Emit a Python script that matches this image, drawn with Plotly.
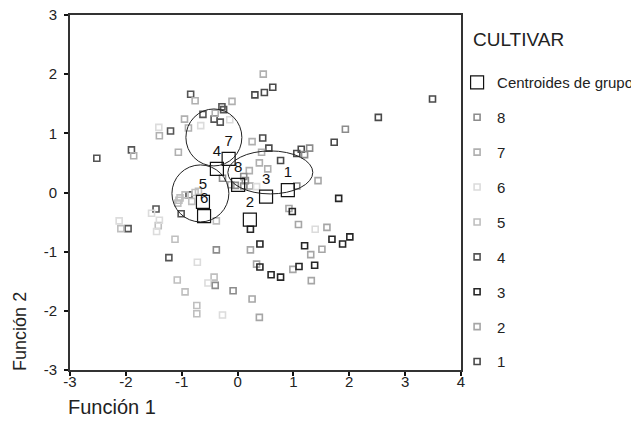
import plotly.graph_objects as go

# ---- data ----
groups = ["1", "2", "3", "4", "5", "6", "7", "8"]

g1_x = [0.31, 0.48, 0.63, 0.45, 0.56, 1.14, 1.06, 0.77, 3.49, 2.52, 1.73]
g1_y = [1.65, 1.69, 1.78, 0.92, 0.75, 0.73, 0.66, 0.54, 1.58, 1.27, 0.85]

g2_x = [1.44, -0.12, 0.22, 0.92, 1.09, 1.60, 0.23, 1.31, 1.51, 0.34, 0.99, 1.32, 0.26, 0.39]
g2_y = [0.20, 0.13, 0.11, -0.27, -0.54, -0.59, -0.97, -1.05, -0.96, -1.21, -1.30, -1.49, -1.80, -2.11]

g3_x = [1.81, 0.98, 1.69, 1.88, 2.01, 0.40, 1.20, 0.40, 0.60, 0.77, 1.10, 1.38, 0.23]
g3_y = [-0.10, -0.32, -0.79, -0.87, -0.75, -0.87, -0.90, -1.26, -1.39, -1.43, -1.25, -1.23, -0.62]

g4_x = [-0.84, -0.62, -1.20, -1.90, -2.52, -0.28, -0.25, -0.42, -0.31, -0.87, -1.01, -1.46, -1.96, -1.23]
g4_y = [1.66, 1.32, 1.04, 0.72, 0.58, 1.45, 1.40, 1.24, 1.19, -0.04, -0.36, -0.28, -0.61, -1.10]

g5_x = [-1.03, -0.76, -0.70, -0.94, -1.05, -1.07, -0.82, -0.38, -2.09, -1.42, -1.12, -1.08, -0.94, -0.73, -0.73, -0.42]
g5_y = [-0.09, 0.00, 0.02, -0.04, -0.13, -0.18, -0.15, -0.48, -0.61, -0.56, -0.79, -1.48, -1.68, -1.91, -2.05, -1.43]

g6_x = [-0.66, -1.41, -0.14, 0.34, -1.54, -2.12, -1.40, -1.45, -0.72, -0.53, 1.39, -0.27]
g6_y = [1.13, 1.10, 1.23, 0.10, -0.35, -0.48, -0.47, -0.66, -1.18, -1.53, -0.62, -2.07]

g7_x = [-0.76, -0.95, -0.88, -1.40, -1.86, -1.06, 0.46, -0.10, -0.40, 0.26, 0.43, 0.39, 0.54, 0.21]
g7_y = [1.55, 1.24, 1.09, 0.96, 0.62, 0.68, 2.00, 1.54, 1.34, 0.86, 0.68, 0.50, 0.40, 0.37]

g8_x = [1.20, 1.29, 1.06, 1.93, 0.11, 0.14, -0.27, -0.04, 0.11, -0.38, -0.40, -0.08]
g8_y = [0.64, 0.75, 0.11, 1.07, 0.27, 0.20, 0.24, 0.12, 0.11, -0.97, -1.57, -1.66]

centroid_labels = ["1", "2", "3", "4", "5", "6", "7", "8"]
centroid_x = [0.90, 0.22, 0.51, -0.37, -0.62, -0.60, -0.16, 0.01]
centroid_y = [0.04, -0.46, -0.07, 0.40, -0.16, -0.40, 0.57, 0.13]

x_ticks = [-3, -2, -1, 0, 1, 2, 3, 4]
x_ticklabels = ["-3", "-2", "-1", "0", "1", "2", "3", "4"]
y_ticks = [-3, -2, -1, 0, 1, 2, 3]
y_ticklabels = ["-3", "-2", "-1", "0", "1", "2", "3"]

# ---- styling ----
FONT = "Liberation Sans, Arial, sans-serif"
group_colors = {
    "1": "#4a4a4a", "2": "#a6a6a6", "3": "#262626", "4": "#555555",
    "5": "#bfbfbf", "6": "#dcdcdc", "7": "#b0b0b0", "8": "#8c8c8c",
}
series = {
    "1": (g1_x, g1_y), "2": (g2_x, g2_y), "3": (g3_x, g3_y), "4": (g4_x, g4_y),
    "5": (g5_x, g5_y), "6": (g6_x, g6_y), "7": (g7_x, g7_y), "8": (g8_x, g8_y),
}

fig = go.Figure()

for g in groups:
    xs, ys = series[g]
    fig.add_trace(go.Scatter(
        x=xs, y=ys, mode="markers", name=g,
        legendgroup=g, legendrank=10 - int(g),
        marker=dict(symbol="square-open", size=6, color=group_colors[g],
                    line=dict(width=1.6, color=group_colors[g])),
        hoverinfo="skip",
    ))

fig.add_trace(go.Scatter(
    x=centroid_x, y=centroid_y, mode="markers", name="Centroides de grupo",
    legendgroup="c", legendrank=1,
    marker=dict(symbol="square-open", size=13, color="#111111",
                line=dict(width=1.2, color="#111111")),
    hoverinfo="skip",
))
fig.add_trace(go.Scatter(
    x=centroid_x, y=centroid_y, mode="markers+text", text=centroid_labels,
    textposition="top center", showlegend=False,
    textfont=dict(family=FONT, size=15, color="#111111"),
    marker=dict(size=13, opacity=0),
    hoverinfo="skip",
))

# hand-drawn circles / ellipse around centroid clusters
circ = dict(color="#222222", width=1)
fig.add_shape(type="circle", xref="x", yref="y", x0=-0.925, x1=0.077, y0=0.449, y1=1.412, line=circ)
fig.add_shape(type="circle", xref="x", yref="y", x0=-1.175, x1=-0.156, y0=-0.497, y1=0.466, line=circ)
fig.add_shape(type="circle", xref="x", yref="y", x0=-0.174, x1=1.347, y0=-0.024, y1=0.703, line=circ)

axis_common = dict(
    showgrid=False, zeroline=False, showline=True, mirror=True,
    linecolor="#333333", linewidth=2, ticks="outside", ticklen=4, tickwidth=2,
    tickcolor="#111111", tickfont=dict(family=FONT, size=15, color="#222222"),
    ticklabeloverflow="allow",
)

# the page body has an 8px default margin, so the figure is sized to fit the window
fig.update_layout(
    width=631, height=430,
    margin=dict(l=62, r=178, t=7, b=68, autoexpand=False),
    paper_bgcolor="white", plot_bgcolor="white",
    font=dict(family=FONT, color="#222222"),
    xaxis=dict(range=[-3, 4], tickvals=x_ticks, ticktext=x_ticklabels,
               ticklabelstandoff=-7, **axis_common),
    yaxis=dict(range=[-3, 3], tickvals=y_ticks, ticktext=y_ticklabels,
               ticklabelstandoff=4, **axis_common),
    showlegend=True,
    legend=dict(
        x=0.99, xanchor="left", y=0.856, yanchor="top",
        bgcolor="rgba(0,0,0,0)", font=dict(family=FONT, size=15, color="#222222"),
        tracegroupgap=12.4, itemclick=False, itemdoubleclick=False,
    ),
    annotations=[
        dict(text="CULTIVAR", xref="paper", yref="paper", x=1.026, y=0.93,
             xanchor="left", yanchor="middle", showarrow=False,
             font=dict(family=FONT, size=19, color="#222222")),
        dict(text="Función 2", xref="paper", yref="paper", x=-0.128, y=0.11,
             xanchor="center", yanchor="middle", textangle=-90, showarrow=False,
             font=dict(family=FONT, size=18, color="#222222")),
        dict(text="Función 1", xref="paper", yref="paper", x=-0.01, y=-0.104,
             xanchor="left", yanchor="middle", showarrow=False,
             font=dict(family=FONT, size=20, color="#222222")),
    ],
)

fig.write_html("out.html")
